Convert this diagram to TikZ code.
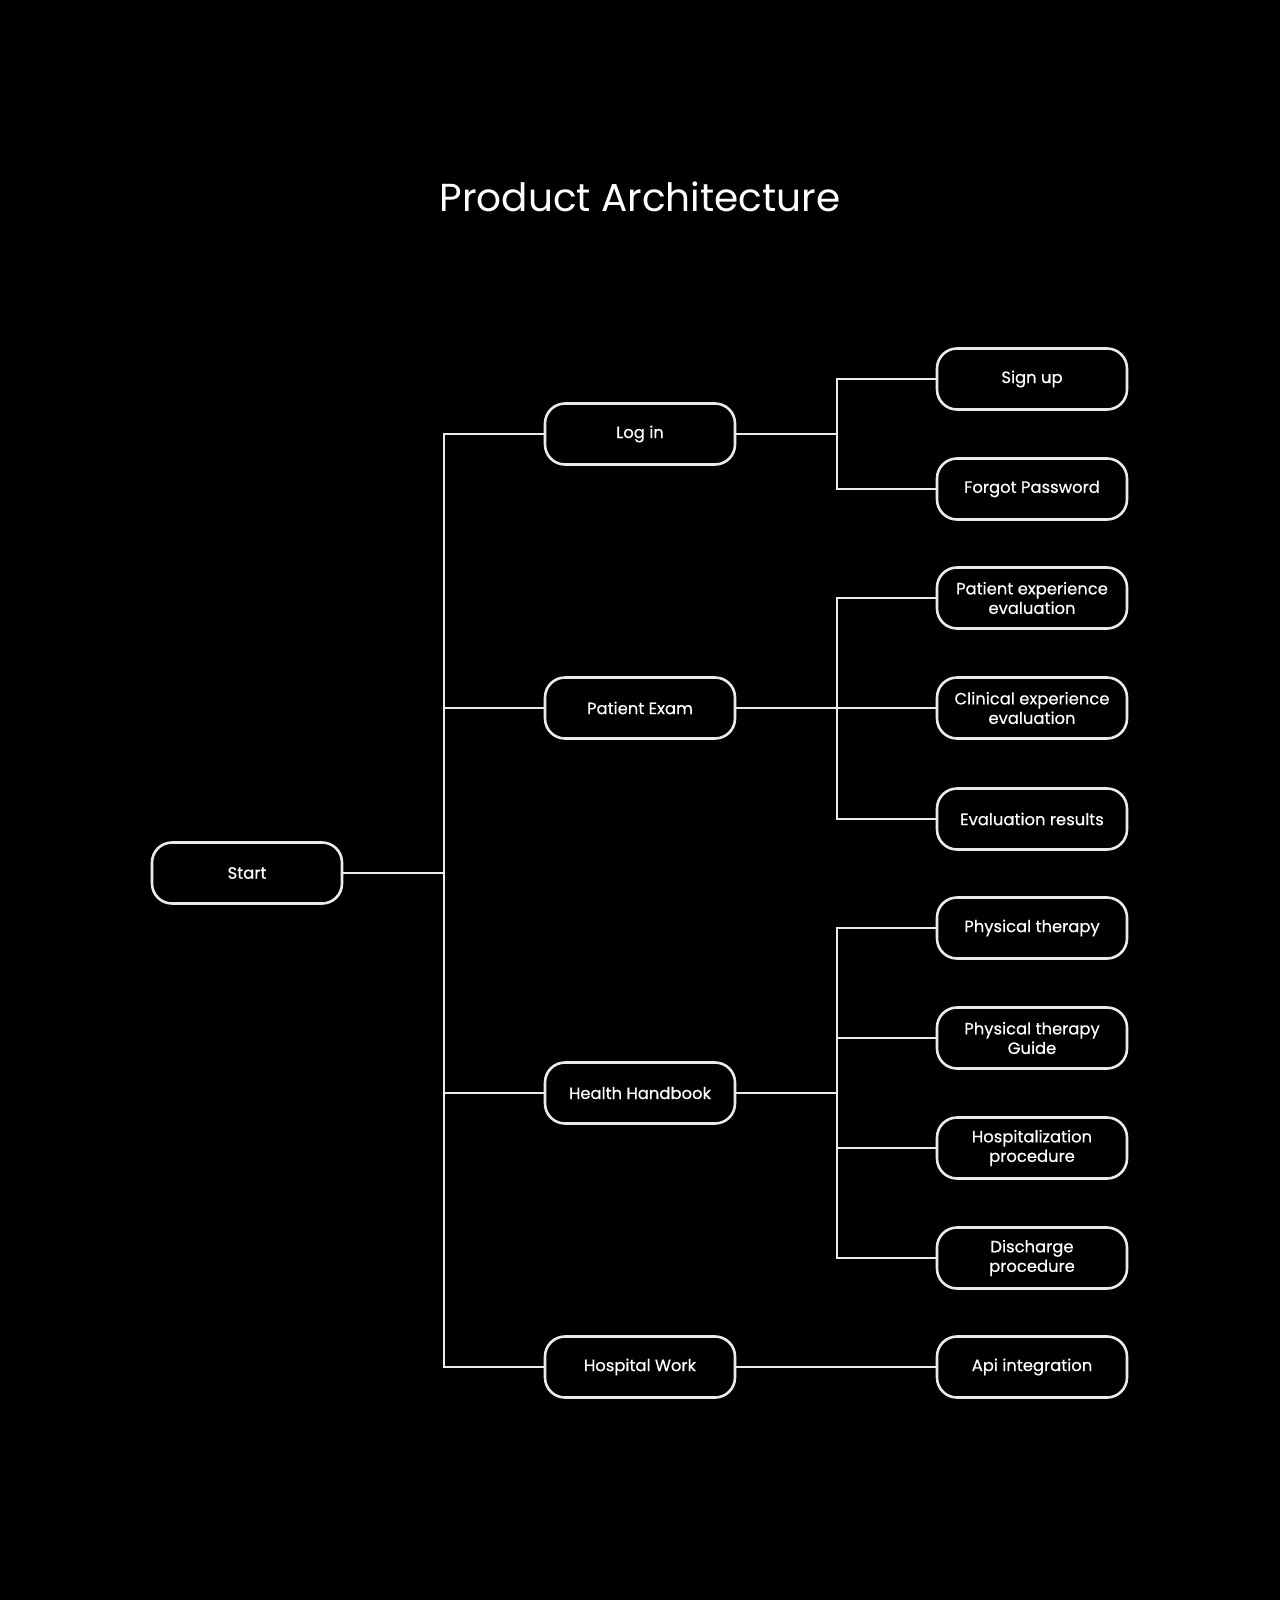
\documentclass[tikz,border=0pt]{standalone}
\usepackage{fontspec}
\setmainfont{Poppins}
\newfontfamily\boxfont[FakeBold=0.35]{Poppins}
\begin{document}
\begin{tikzpicture}[x=1pt,y=-1pt,
  box/.style={draw=white!92!black, line width=2.6pt, rounded corners=20pt, minimum width=190pt, minimum height=61pt, inner sep=0pt, align=center, text=white, font=\boxfont\fontsize{16.4}{19.5}\selectfont},
  link/.style={draw=white!92!black, line width=2.8pt}]
\fill[black] (0,0) rectangle (1280,1600);
\useasboundingbox (0,0) rectangle (1280,1600);
\node[text=white, font=\fontsize{39}{44}\selectfont] (title) at (640,197) {Product Architecture};
\node[box] (start) at (247,873) {Start};
\node[box] (login) at (640,434) {Log in};
\node[box] (exam) at (640,708) {Patient Exam};
\node[box] (hand) at (640,1093) {Health Handbook};
\node[box] (work) at (640,1367) {Hospital Work};
\node[box] (sign) at (1032,379) {Sign up};
\node[box] (forgot) at (1032,489) {Forgot Password};
\node[box] (pee) at (1032,598) {Patient experience\\evaluation};
\node[box] (cee) at (1032,708) {Clinical experience\\evaluation};
\node[box] (res) at (1032,819) {Evaluation results};
\node[box] (pt) at (1032,928) {Physical therapy};
\node[box] (ptg) at (1032,1038) {Physical therapy\\Guide};
\node[box] (hosp) at (1032,1148) {Hospitalization\\procedure};
\node[box] (dis) at (1032,1258) {Discharge\\procedure};
\node[box] (api) at (1032,1367) {Api integration};
% trunk from start
\coordinate (t1) at (444,873);
\draw[link] (start.east) -- (t1);
\draw[link] (login.west) -| (t1);
\draw[link] (work.west) -| (t1);
\draw[link] (exam.west) -- (exam.west -| t1);
\draw[link] (hand.west) -- (hand.west -| t1);
% log in
\coordinate (t2) at (837,434);
\draw[link] (login.east) -- (t2);
\draw[link] (sign.west) -| (t2);
\draw[link] (forgot.west) -| (t2);
% exam
\coordinate (t3) at (837,708);
\draw[link] (exam.east) -- (cee.west);
\draw[link] (pee.west) -| (t3);
\draw[link] (res.west) -| (t3);
% handbook
\coordinate (t4) at (837,1093);
\draw[link] (hand.east) -- (t4);
\draw[link] (pt.west) -| (t4);
\draw[link] (dis.west) -| (t4);
\draw[link] (ptg.west) -- (ptg.west -| t4);
\draw[link] (hosp.west) -- (hosp.west -| t4);
% work
\draw[link] (work.east) -- (api.west);
\end{tikzpicture}
\end{document}
